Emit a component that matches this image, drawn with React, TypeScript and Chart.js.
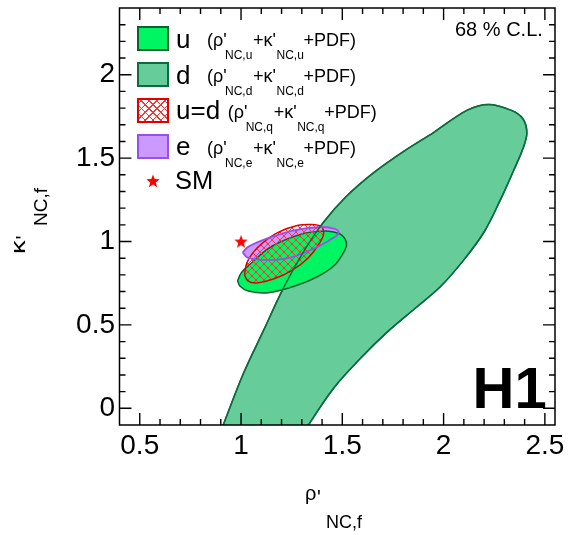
import React, { useEffect, useRef } from 'react';
import { Chart, registerables } from 'chart.js';

Chart.register(...registerables);

const FONT = '"Liberation Sans", Arial, Helvetica, sans-serif';

const X_MIN = 0.4;
const X_MAX = 2.55;
const Y_MIN = -0.1;
const Y_MAX = 2.4;

const xTickValues = [0.5, 1, 1.5, 2, 2.5];
const xTickLabels = ['0.5', '1', '1.5', '2', '2.5'];
const yTickValues = [0, 0.5, 1, 1.5, 2];
const yTickLabels = ['0', '0.5', '1', '1.5', '2'];

// d quark contour (rho', kappa'); the two lowest points lie below the frame and are clipped
const dRho = [0.880, 0.912, 1.011, 1.110, 1.209, 1.308, 1.407, 1.523, 1.655, 1.803, 1.952, 2.117, 2.223, 2.332, 2.390, 2.411, 2.390, 2.348, 2.282, 2.200, 2.100, 1.985, 1.860, 1.720, 1.590, 1.460, 1.333, 1.286];
const dKappa = [-0.2, -0.1, 0.207, 0.464, 0.721, 0.938, 1.116, 1.274, 1.413, 1.541, 1.655, 1.788, 1.822, 1.788, 1.739, 1.650, 1.551, 1.432, 1.254, 1.057, 0.890, 0.730, 0.600, 0.455, 0.300, 0.125, -0.1, -0.2];

// u quark contour
const uRho = [0.983, 1.001, 1.051, 1.150, 1.300, 1.400, 1.450, 1.497, 1.521, 1.513, 1.464, 1.381, 1.266, 1.134, 1.035, 0.994];
const uKappa = [0.765, 0.812, 0.871, 0.970, 1.045, 1.062, 1.059, 1.039, 0.990, 0.950, 0.861, 0.792, 0.733, 0.693, 0.703, 0.733];

// u=d contour
const udRho = [1.017, 1.028, 1.060, 1.110, 1.183, 1.282, 1.345, 1.395, 1.408, 1.385, 1.330, 1.250, 1.160, 1.080, 1.035];
const udKappa = [0.800, 0.870, 0.935, 0.995, 1.055, 1.097, 1.102, 1.090, 1.048, 0.985, 0.900, 0.825, 0.775, 0.752, 0.762];

// electron contour
const eRho = [1.008, 1.035, 1.134, 1.266, 1.398, 1.465, 1.482, 1.460, 1.365, 1.233, 1.100, 1.030];
const eKappa = [0.935, 0.968, 1.020, 1.069, 1.087, 1.075, 1.055, 1.025, 0.960, 0.901, 0.890, 0.905];

// Standard Model point
const smRho = [1.0];
const smKappa = [1.0];

const legendLabels = ['u', 'd', 'u=d', 'e'];
const legendSubs = ['u', 'd', 'q', 'e'];

const C_U = '#00f563';
const C_U_LINE = '#0c5f30';
const C_D = '#66cc99';
const C_D_LINE = '#0d6b3e';
const C_UD = '#e00000';
const C_E = '#cc99ff';
const C_E_LINE = '#9650f0';

function closedPoints(xs: number[], ys: number[]) {
  const pts = xs.map((x, i) => ({ x, y: ys[i] }));
  pts.push({ ...pts[0] });
  return pts;
}

function makeStar(size: number, color: string) {
  const c = document.createElement('canvas');
  c.width = size;
  c.height = size;
  const g = c.getContext('2d')!;
  const cx = size / 2;
  const cy = size / 2 + 0.5;
  const R = size / 2;
  const r = R * 0.42;
  g.beginPath();
  for (let i = 0; i < 10; i++) {
    const a = -Math.PI / 2 + (i * Math.PI) / 5;
    const rad = i % 2 === 0 ? R : r;
    g.lineTo(cx + rad * Math.cos(a), cy + rad * Math.sin(a));
  }
  g.closePath();
  g.fillStyle = color;
  g.fill();
  return c;
}

function makeHatch() {
  const c = document.createElement('canvas');
  c.width = 8;
  c.height = 8;
  const g = c.getContext('2d')!;
  g.strokeStyle = '#ff3030';
  g.lineWidth = 1;
  g.beginPath();
  g.moveTo(-1, -1);
  g.lineTo(9, 9);
  g.moveTo(-1, 9);
  g.lineTo(9, -1);
  g.stroke();
  return g.createPattern(c, 'repeat');
}

const framePlugin = {
  id: 'frameTicks',
  afterDraw(chart: any) {
    const { ctx, chartArea: a } = chart;
    const xs = chart.scales.x;
    const ys = chart.scales.y;
    ctx.save();
    ctx.strokeStyle = '#000';
    ctx.lineWidth = 1.5;
    ctx.strokeRect(a.left, a.top, a.right - a.left, a.bottom - a.top);
    ctx.lineWidth = 1.4;
    ctx.beginPath();
    for (let k = Math.ceil(X_MIN * 10 + 1e-6); k / 10 < X_MAX - 1e-6; k++) {
      const v = k / 10;
      const major = xTickValues.some((t) => Math.abs(t - v) < 1e-6);
      const len = major ? 12 : 6;
      const px = xs.getPixelForValue(v);
      ctx.moveTo(px, a.bottom);
      ctx.lineTo(px, a.bottom - len);
      ctx.moveTo(px, a.top);
      ctx.lineTo(px, a.top + len);
    }
    for (let k = Math.ceil(Y_MIN * 10 + 1e-6); k / 10 < Y_MAX - 1e-6; k++) {
      const v = k / 10;
      const major = yTickValues.some((t) => Math.abs(t - v) < 1e-6);
      const len = major ? 12 : 6;
      const py = ys.getPixelForValue(v);
      ctx.moveTo(a.left, py);
      ctx.lineTo(a.left + len, py);
      ctx.moveTo(a.right, py);
      ctx.lineTo(a.right - len, py);
    }
    ctx.stroke();
    ctx.restore();
  },
};

function Txt(props: { x: number; base: number; size: number; bold?: boolean; color?: string; stretch?: number; children: React.ReactNode }) {
  const { x, base, size, bold, color, stretch, children } = props;
  return (
    <span
      style={{
        position: 'absolute',
        left: x,
        top: base - 0.8465 * size,
        fontSize: size,
        lineHeight: `${size}px`,
        fontFamily: FONT,
        fontWeight: bold ? 700 : 400,
        color: color || '#000',
        whiteSpace: 'nowrap',
        transform: stretch ? `scaleX(${stretch})` : undefined,
        transformOrigin: 'left center',
      }}
    >
      {children}
    </span>
  );
}

function StarSvg(props: { cx: number; cy: number; size: number }) {
  const { cx, cy, size } = props;
  const R = size / 2;
  const r = R * 0.42;
  const pts: string[] = [];
  for (let i = 0; i < 10; i++) {
    const a = -Math.PI / 2 + (i * Math.PI) / 5;
    const rad = i % 2 === 0 ? R : r;
    pts.push(`${(R + rad * Math.cos(a)).toFixed(2)},${(R + 0.5 + rad * Math.sin(a)).toFixed(2)}`);
  }
  return (
    <svg width={size} height={size + 1} style={{ position: 'absolute', left: cx - R, top: cy - R - 0.5 }}>
      <polygon points={pts.join(' ')} fill="#ff0000" />
    </svg>
  );
}

const boxStyles: React.CSSProperties[] = [
  { background: C_U, border: `2px solid ${C_U_LINE}` },
  { background: C_D, border: `2px solid ${C_D_LINE}` },
  {
    backgroundColor: '#fff',
    backgroundImage:
      'repeating-linear-gradient(45deg, transparent 0px, transparent 4.5px, #ff3030 4.5px, #ff3030 5.5px), repeating-linear-gradient(-45deg, transparent 0px, transparent 4.5px, #ff3030 4.5px, #ff3030 5.5px)',
    border: `2px solid ${C_UD}`,
  },
  { background: C_E, border: `2px solid ${C_E_LINE}` },
];

const rowCenters = [38.2, 74.2, 110, 146];
const rowStarts = [207, 207, 227.7, 207];

export default function App() {
  const ref = useRef<HTMLCanvasElement>(null);

  useEffect(() => {
    if (!ref.current) return;
    const hatch = makeHatch();
    const star = makeStar(14, '#ff0000');
    const common = { showLine: true, pointRadius: 0, tension: 0.35, clip: 0 };
    const chart = new Chart(ref.current, {
      type: 'scatter',
      data: {
        datasets: [
          { ...common, label: 'SM', data: smRho.map((x, i) => ({ x, y: smKappa[i] })), showLine: false, pointRadius: 7, pointStyle: star as any, order: 0 },
          { ...common, label: 'd line', data: closedPoints(dRho, dKappa), borderColor: C_D_LINE, borderWidth: 1.5, fill: false, order: 1 },
          { ...common, label: 'e line', data: closedPoints(eRho, eKappa), borderColor: C_E_LINE, borderWidth: 1.8, fill: false, order: 2 },
          { ...common, label: 'u=d', data: closedPoints(udRho, udKappa), borderColor: C_UD, backgroundColor: hatch as any, borderWidth: 1.5, fill: 'shape', order: 3 },
          { ...common, label: 'u', data: closedPoints(uRho, uKappa), borderColor: C_U_LINE, backgroundColor: C_U, borderWidth: 1.5, fill: 'shape', order: 4 },
          { ...common, label: 'e', data: closedPoints(eRho, eKappa), borderColor: 'rgba(0,0,0,0)', backgroundColor: C_E, borderWidth: 0, fill: 'shape', order: 5 },
          { ...common, label: 'd', data: closedPoints(dRho, dKappa), borderColor: C_D_LINE, backgroundColor: C_D, borderWidth: 1.5, fill: 'shape', order: 6 },
        ] as any,
      },
      options: {
        animation: false,
        responsive: false,
        events: [],
        elements: { line: { capBezierPoints: false } },
        layout: { padding: { top: 3.5, right: 13, bottom: 0, left: 0 } },
        plugins: { legend: { display: false }, tooltip: { enabled: false } },
        scales: {
          x: {
            type: 'linear',
            position: 'bottom',
            min: X_MIN,
            max: X_MAX,
            grid: { display: false, drawTicks: false },
            border: { display: false },
            ticks: {
              autoSkip: false,
              maxRotation: 0,
              padding: 4,
              color: '#000',
              font: { family: FONT, size: 28 },
              callback: (_v: any, i: number) => xTickLabels[i],
            },
            afterBuildTicks: (s: any) => {
              s.ticks = xTickValues.map((value) => ({ value }));
            },
            afterFit: (s: any) => {
              s.height = 110;
              s.paddingLeft = 0;
              s.paddingRight = 0;
            },
          },
          y: {
            type: 'linear',
            position: 'left',
            min: Y_MIN,
            max: Y_MAX,
            grid: { display: false, drawTicks: false },
            border: { display: false },
            ticks: {
              autoSkip: false,
              padding: 4.5,
              color: '#000',
              font: { family: FONT, size: 28 },
              callback: (_v: any, i: number) => yTickLabels[i],
            },
            afterBuildTicks: (s: any) => {
              s.ticks = yTickValues.map((value) => ({ value }));
            },
            afterFit: (s: any) => {
              s.width = 119.5;
              s.paddingTop = 0;
              s.paddingBottom = 0;
            },
          },
        },
      } as any,
      plugins: [framePlugin],
    });
    return () => chart.destroy();
  }, []);

  return (
    <div style={{ position: 'absolute', left: 0, top: 0, width: 568, height: 535, background: '#fff', overflow: 'hidden' }}>
      <canvas ref={ref} width={568} height={535} style={{ position: 'absolute', left: 0, top: 0 }} />

      {/* Legend */}
      {legendLabels.map((lab, i) => {
        const c = rowCenters[i];
        const S = rowStarts[i];
        const sub = 'NC,' + legendSubs[i];
        return (
          <React.Fragment key={lab}>
            <div style={{ position: 'absolute', left: 137, top: c - 12.5, width: 32, height: 25, boxSizing: 'border-box', ...boxStyles[i] }} />
            <Txt x={176} base={c + 9.5} size={26}>{lab}</Txt>
            <Txt x={S} base={c + 8} size={18}>(ρ'</Txt>
            <Txt x={S + 18} base={c + 21} size={12}>{sub}</Txt>
            <Txt x={S + 46} base={c + 8} size={18}>+κ'</Txt>
            <Txt x={S + 69.5} base={c + 21} size={12}>{sub}</Txt>
            <Txt x={S + 96.5} base={c + 8} size={18}>+PDF)</Txt>
          </React.Fragment>
        );
      })}
      <StarSvg cx={153} cy={181.7} size={14} />
      <Txt x={175} base={190} size={25.5}>SM</Txt>

      <Txt x={455} base={36} size={20}>68 % C.L.</Txt>
      <Txt x={472.5} base={408.3} size={58} bold>H1</Txt>

      {/* X axis title */}
      <Txt x={305} base={500} size={20}>ρ</Txt>
      <Txt x={317} base={504.3} size={20}>'</Txt>
      <Txt x={326} base={528} size={18}>NC,f</Txt>

      {/* Y axis title (rotated) */}
      <div style={{ position: 'absolute', left: 0, top: 535, width: 535, height: 70, transform: 'rotate(-90deg)', transformOrigin: '0 0' }}>
        <Txt x={281} base={25} size={21} stretch={1.3}>κ</Txt>
        <Txt x={295.5} base={29.3} size={21}>'</Txt>
        <Txt x={309} base={47} size={19}>NC,f</Txt>
      </div>
    </div>
  );
}
